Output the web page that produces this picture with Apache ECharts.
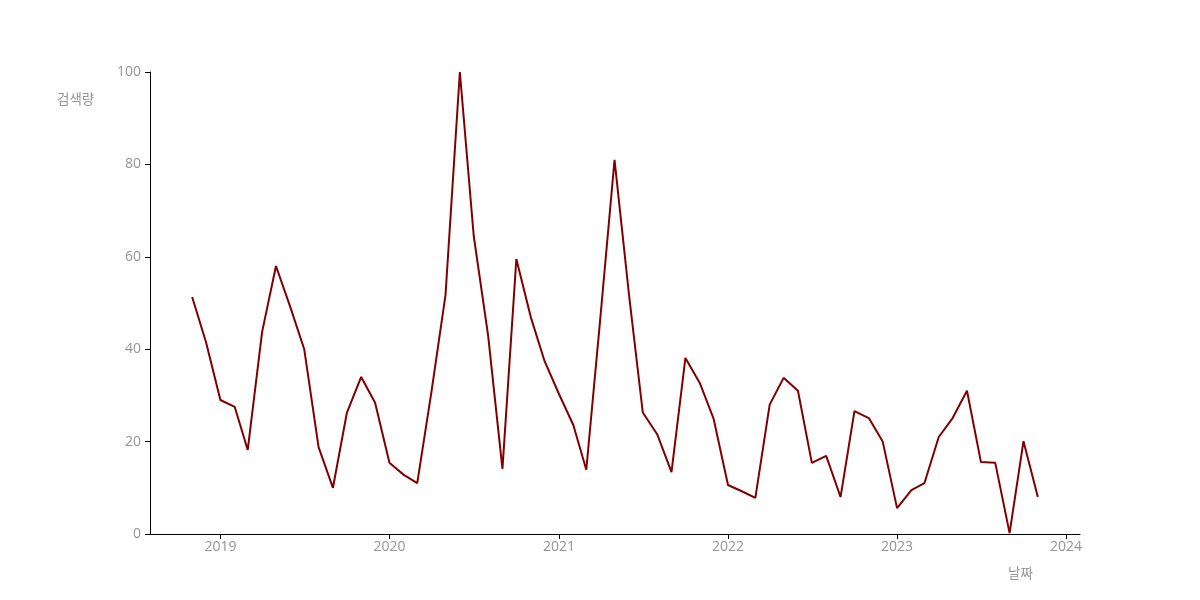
<!DOCTYPE html>
<html>
<head>
<meta charset="utf-8">
<script src="https://cdn.jsdelivr.net/npm/echarts@6/dist/echarts.min.js"></script>
<style>html,body{margin:0;padding:0;background:#fff}#c{width:1200px;height:600px}</style>
</head>
<body>
<div id="c"></div>
<script>
const startMonth = '2018-11';
const values = [
  51.3, 41.5,
  29.0, 27.5, 18.2, 43.7, 58.0, 49.1, 40.0, 18.8, 10.0, 26.2, 34.0, 28.4,
  15.4, 12.8, 11.0, 31.0, 51.7, 100, 64.5, 43.0, 14.1, 59.5, 47.0, 37.4,
  30.3, 23.6, 13.9, 47.5, 81.0, 52.0, 26.3, 21.6, 13.4, 38.1, 32.7, 24.9,
  10.6, 9.2, 7.8, 28.0, 33.8, 31.0, 15.4, 16.9, 8.0, 26.6, 25.1, 20.0,
  5.6, 9.5, 11.0, 21.0, 25.1, 31.0, 15.6, 15.4, 0.2, 20.1, 8.0
];
const yTicks = [0, 20, 40, 60, 80, 100];
const yName = '검색량';
const xName = '날짜';

function monthDate(i) {
  const [y, m] = startMonth.split('-').map(Number);
  return new Date(y, m - 1 + i, 1).getTime();
}
const data = values.map((v, i) => [monthDate(i), v]);

const FONT = "'Open Sans', 'Noto Sans CJK KR', sans-serif";
const KFONT = "'Noto Sans CJK KR', sans-serif";
const GRAY = '#959595';
const chart = echarts.init(document.getElementById('c'));
chart.setOption({
  animation: false,
  backgroundColor: '#fff',
  grid: { left: 150, right: 120, top: 72, bottom: 66, containLabel: false },
  xAxis: {
    type: 'time',
    min: new Date(2018, 7, 2).getTime(),
    max: new Date(2024, 0, 31).getTime(),
    splitNumber: 5,
    axisLine: { show: true, lineStyle: { color: '#000', width: 1 } },
    axisTick: { show: true, length: 5, lineStyle: { color: '#000' } },
    minorTick: { show: false },
    splitLine: { show: false },
    axisLabel: {
      color: GRAY, fontFamily: FONT, fontSize: 14, margin: 6,
      formatter: function (val) {
        const d = new Date(val);
        return (d.getMonth() === 0 && d.getDate() === 1) ? String(d.getFullYear()) : '';
      }
    }
  },
  yAxis: {
    type: 'value',
    min: yTicks[0], max: yTicks[yTicks.length - 1], interval: 20,
    axisLine: { show: true, lineStyle: { color: '#000', width: 1 } },
    axisTick: { show: true, length: 5, lineStyle: { color: '#000' } },
    splitLine: { show: false },
    axisLabel: { color: GRAY, fontFamily: FONT, fontSize: 14, margin: 9 }
  },
  graphic: [
    { type: 'text', left: 57, top: 92, style: { text: yName, fill: GRAY, font: '13.5px ' + KFONT } },
    { type: 'text', left: 1008, top: 566, style: { text: xName, fill: GRAY, font: '13.5px ' + KFONT } }
  ],
  series: [{
    type: 'line',
    data: data,
    showSymbol: false,
    symbol: 'none',
    lineStyle: { color: '#800000', width: 2 },
    itemStyle: { color: '#800000' }
  }]
});
</script>
</body>
</html>
